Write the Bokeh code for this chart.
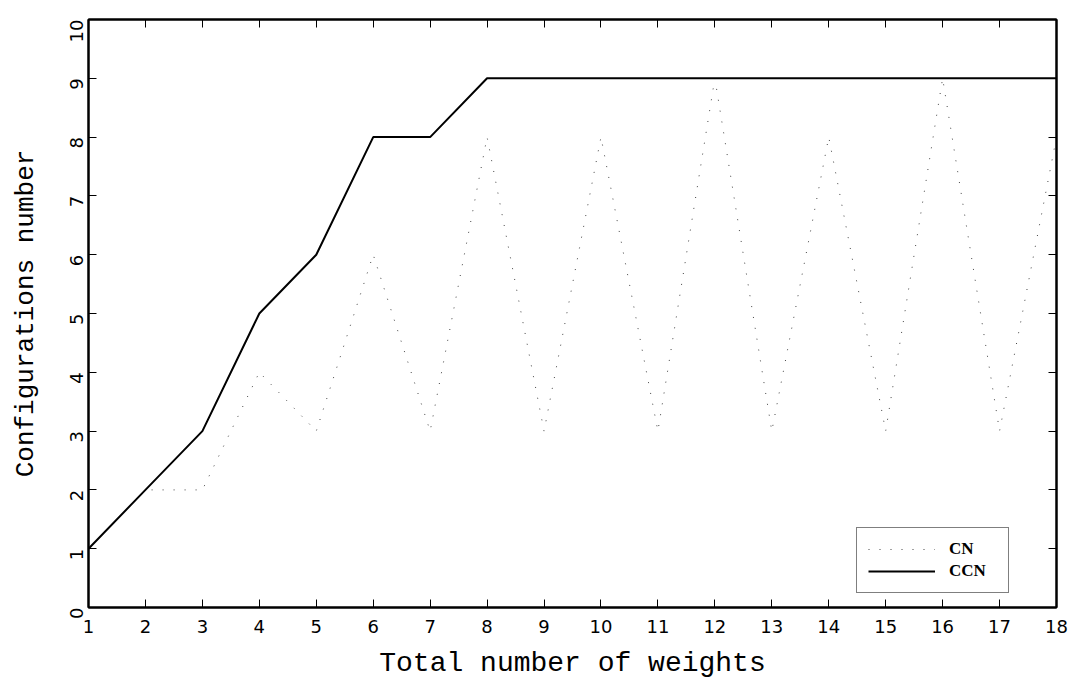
from bokeh.plotting import figure
from bokeh.models import LinearAxis, Range1d, FixedTicker, Legend, LegendItem
from bokeh.embed import file_html
from bokeh.resources import INLINE
import math

weights = list(range(1, 19))
cn = [1, 2, 2, 4, 3, 6, 3, 8, 3, 8, 3, 9, 3, 8, 3, 9, 3, 8]
ccn = [1, 2, 3, 5, 6, 8, 8, 9, 9, 9, 9, 9, 9, 9, 9, 9, 9, 9]
x_ticks = list(range(1, 19))
y_ticks = list(range(0, 11))

p = figure(width=1077, height=683, output_backend="svg", toolbar_location=None,
           x_range=Range1d(1, 18), y_range=Range1d(0, 10),
           min_border_left=88, min_border_right=21, min_border_top=19, min_border_bottom=76)
p.background_fill_color = "white"
p.border_fill_color = "white"
p.grid.visible = False
p.outline_line_color = "black"
p.outline_line_width = 2

r_cn = p.line(weights, cn, line_color="#444444", line_width=1, line_dash="1 10")
r_ccn = p.line(weights, ccn, line_color="black", line_width=2)

def style(ax, ticks):
    ax.ticker = FixedTicker(ticks=ticks)
    ax.major_tick_in = 8
    ax.major_tick_out = 0
    ax.minor_tick_line_color = None
    ax.axis_line_color = "black"
    ax.axis_line_width = 2
    ax.major_tick_line_width = 1
    ax.major_tick_line_color = "black"
    ax.major_label_text_font = "DejaVu Sans"
    ax.major_label_text_font_size = "18px"
    ax.major_label_text_color = "black"
    ax.major_label_text_font_style = "normal"

xa = p.xaxis[0]
style(xa, x_ticks)
xa.axis_label = "Total number of weights"
xa.axis_label_text_font = "Liberation Mono"
xa.axis_label_text_font_size = "28px"
xa.axis_label_text_font_style = "normal"
xa.axis_label_text_color = "black"
xa.axis_label_standoff = 12
xa.major_label_standoff = 12

ya = p.yaxis[0]
style(ya, y_ticks)
ya.major_label_orientation = math.pi / 2
ya.axis_label = "Configurations number"
ya.axis_label_text_font = "Liberation Mono"
ya.axis_label_text_font_size = "26px"
ya.axis_label_text_font_style = "normal"
ya.axis_label_text_color = "black"
ya.axis_label_standoff = 20
ya.major_label_standoff = 12

top = LinearAxis()
style(top, x_ticks)
top.major_label_overrides = {t: "" for t in x_ticks}
top.major_label_standoff = 0
p.add_layout(top, "above")

right = LinearAxis()
style(right, y_ticks)
right.major_label_overrides = {t: "" for t in y_ticks}
right.major_label_standoff = 0
p.add_layout(right, "right")

legend = Legend(items=[LegendItem(label="CN", renderers=[r_cn]),
                       LegendItem(label="CCN", renderers=[r_ccn])],
                location=(768, 14))
legend.label_text_font = "Liberation Serif"
legend.label_text_font_size = "17px"
legend.label_text_font_style = "bold"
legend.label_text_color = "black"
legend.glyph_width = 67
legend.glyph_height = 20
legend.label_height = 20
legend.label_width = 48
legend.label_standoff = 14
legend.spacing = 2
legend.padding = 11
legend.margin = 0
legend.border_line_color = "black"
legend.border_line_width = 1
legend.background_fill_alpha = 1
p.add_layout(legend, "center")

open("out.html", "w").write(file_html(p, INLINE))
